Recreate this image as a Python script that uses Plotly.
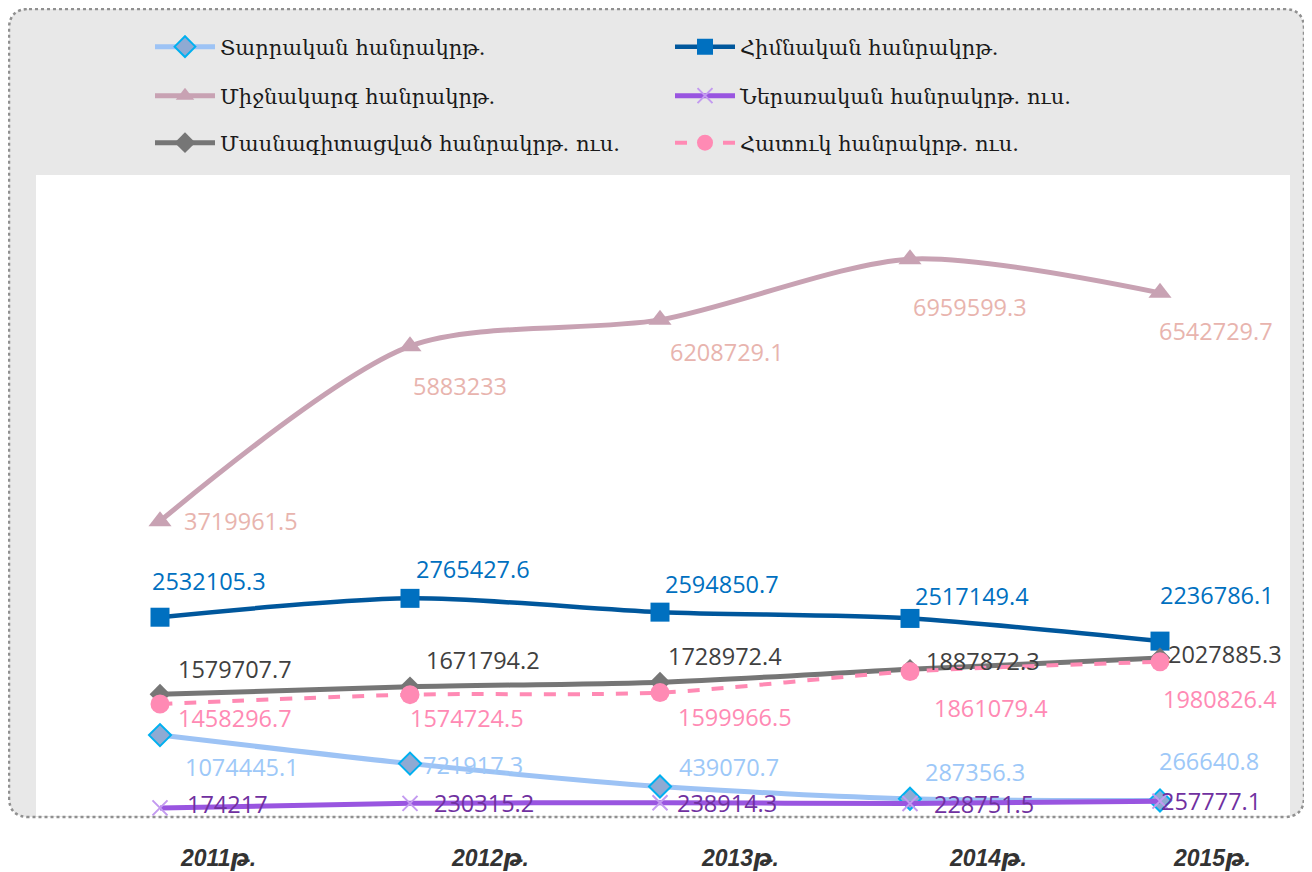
import plotly.graph_objects as go

# ---------------- data ----------------
years = ["2011թ.", "2012թ.", "2013թ.", "2014թ.", "2015թ."]
names = [
    "Տարրական հանրակրթ.",
    "Հիմնական հանրակրթ.",
    "Միջնակարգ հանրակրթ.",
    "Ներառական հանրակրթ. ուս.",
    "Մասնագիտացված հանրակրթ. ուս.",
    "Հատուկ հանրակրթ. ուս.",
]
tarrakan = [1074445.1, 721917.3, 439070.7, 287356.3, 266640.8]
himnakan = [2532105.3, 2765427.6, 2594850.7, 2517149.4, 2236786.1]
mijnakarg = [3719961.5, 5883233, 6208729.1, 6959599.3, 6542729.7]
nerarakan = [174217, 230315.2, 238914.3, 228751.5, 257777.1]
masnag = [1579707.7, 1671794.2, 1728972.4, 1887872.3, 2027885.3]
hatuk = [1458296.7, 1574724.5, 1599966.5, 1861079.4, 1980826.4]
series = [tarrakan, himnakan, mijnakarg, nerarakan, masnag, hatuk]

# ---------------- layout geometry (page pixels) ----------------
OFF = 8                      # page body margin
W, H = 1312 - OFF, 872 - OFF
PL, PR, PT, PB = 36, 1290, 175, 822   # plot area in page coords
L, R, T, B = PL - OFF, W - (PR - OFF), PT - OFF, H - (PB - OFF)


def pxx(p):
    return (p - PL) / (PR - PL)


def pxy(p):
    return (PB - p) / (PB - PT)


styles = [
    dict(line=dict(color="#9dc3f5", width=5), marker=dict(symbol="diamond", size=17, color="#8faad3", line=dict(color="#00b0f0", width=2)), tc="#9dc8f8", leg="legend"),
    dict(line=dict(color="#00579c", width=4.5), marker=dict(symbol="square", size=19, color="#0070c0"), tc="#0070c0", leg="legend"),
    dict(line=dict(color="#c8a2b3", width=5), marker=dict(symbol="triangle-up", size=20, color="#c8a2b3"), tc="#e8b4ae", leg="legend2"),
    dict(line=dict(color="#9955e0", width=5), marker=dict(symbol="x-thin", size=15, color="#c39af0", line=dict(color="#c39af0", width=2)), tc="#7030a0", leg="legend2"),
    dict(line=dict(color="#767676", width=5), marker=dict(symbol="diamond", size=16, color="#767676"), tc="#404040", leg="legend3"),
    dict(line=dict(color="#ff8ab4", width=4, dash="dash"), marker=dict(symbol="circle", size=19, color="#ff8ab4"), tc="#ff8ab4", leg="legend3"),
]
# label offsets (dx, dy) in px, dy downward
offsets = [
    [(82, 32), (63, 1), (69, -19), (65, -27), (49, -39)],
    [(49, -36), (63, -29), (62, -28), (62, -22), (57, -46)],
    [(81, 0), (50, 40), (67, 32), (60, 48), (56, 38)],
    [(67, -4), (74, 0), (67, 0), (74, 0), (51, 0)],
    [(75, -25), (73, -27), (65, -26), (73, -8), (65, -4)],
    [(75, 14), (57, 23), (75, 24), (81, 37), (60, 37)],
]
year_shift = [58, 80, 80, 78, 52]


def fmt(v):
    s = "%.1f" % v
    if s.endswith(".0"):
        s = s[:-2]
    return s


xs = list(range(len(years)))
fig = go.Figure()
annotations = []
for i, (nm, vals, st) in enumerate(zip(names, series, styles)):
    fig.add_trace(go.Scatter(
        x=xs, y=vals, name=nm, mode="lines+markers",
        line=dict(shape="spline", smoothing=0.8, **st["line"]),
        marker=st["marker"], legend=st["leg"], hoverinfo="skip",
    ))
    for j, v in enumerate(vals):
        dx, dy = offsets[i][j]
        annotations.append(dict(
            x=xs[j], y=v, xref="x", yref="y", text=fmt(v), showarrow=False,
            xshift=dx, yshift=-dy, font=dict(family="Open Sans", size=23.5, color=st["tc"]),
        ))

for j, yl in enumerate(years):
    annotations.append(dict(
        x=xs[j], y=pxy(858), xref="x", yref="paper", text=yl, showarrow=False,
        xshift=year_shift[j], xanchor="center", yanchor="middle",
        font=dict(family="Liberation Sans Narrow, Liberation Sans, DejaVu Sans", size=23,
                  color="#333333", weight="bold", style="italic"),
    ))


def rounded(x0, y0, x1, y1, r):
    def P(x, y):
        return "%.5f,%.5f" % (pxx(x), pxy(y))
    return ("M" + P(x0 + r, y0) + " L" + P(x1 - r, y0) + " Q" + P(x1, y0) + " " + P(x1, y0 + r)
            + " L" + P(x1, y1 - r) + " Q" + P(x1, y1) + " " + P(x1 - r, y1)
            + " L" + P(x0 + r, y1) + " Q" + P(x0, y1) + " " + P(x0, y1 - r)
            + " L" + P(x0, y0 + r) + " Q" + P(x0, y0) + " " + P(x0 + r, y0) + " Z")


box = rounded(9, 9, 1304, 817, 20)
shapes = [
    dict(type="path", path=box, xref="paper", yref="paper", fillcolor="#e8e8e8", line=dict(width=0), layer="below"),
    dict(type="rect", xref="paper", yref="paper", x0=0, x1=1, y0=pxy(816), y1=1, fillcolor="white", line=dict(width=0), layer="below"),
    dict(type="path", path=box, xref="paper", yref="paper", line=dict(color="#909090", width=2.5, dash="dot"), layer="below"),
]

leg_common = dict(orientation="h", xanchor="left", yanchor="middle", bgcolor="rgba(0,0,0,0)",
                  font=dict(family="DejaVu Serif", size=21, color="#1a1a1a"),
                  entrywidth=445, entrywidthmode="pixels", itemwidth=60, itemclick=False, itemdoubleclick=False)
fig.update_layout(
    width=W, height=H,
    margin=dict(l=L, r=R, t=T, b=B),
    paper_bgcolor="white", plot_bgcolor="white",
    xaxis=dict(range=[-0.496, 4.52], visible=False, fixedrange=True),
    yaxis=dict(range=[0, 8.0e6], visible=False, fixedrange=True),
    showlegend=True,
    legend=dict(x=pxx(150), y=pxy(47), **leg_common),
    legend2=dict(x=pxx(150), y=pxy(96), **leg_common),
    legend3=dict(x=pxx(150), y=pxy(143), **leg_common),
    shapes=shapes,
    annotations=annotations,
)
fig.write_html("out.html")
